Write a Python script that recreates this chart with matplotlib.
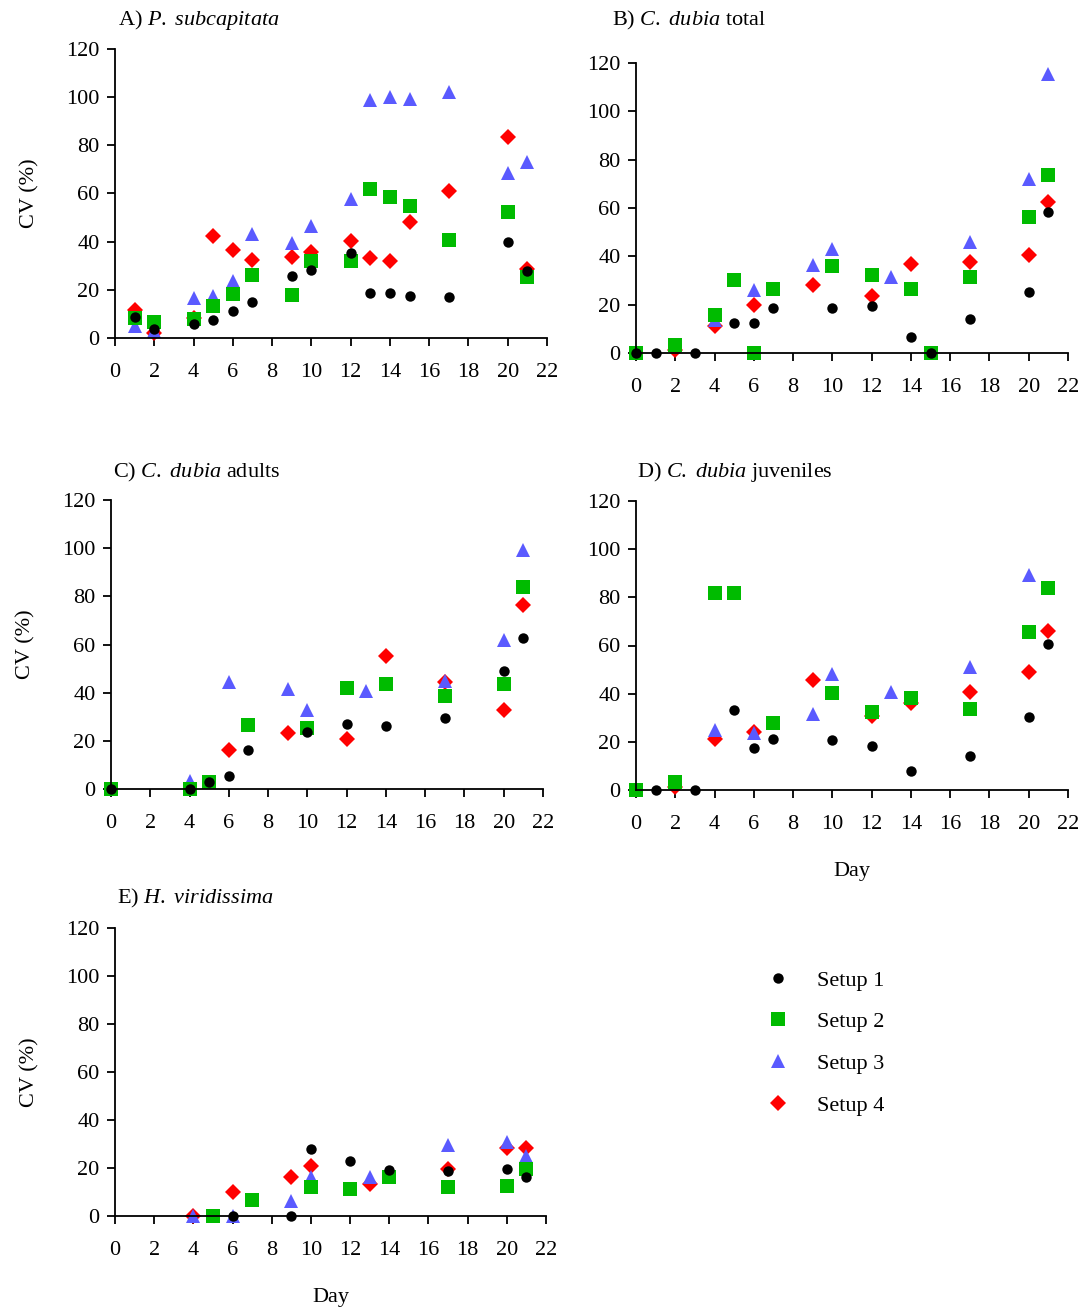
import numpy as np
import matplotlib
matplotlib.use('Agg')
from matplotlib import pyplot as plt

plt.rcParams['font.family'] = ['Liberation Serif', 'DejaVu Serif']
plt.rcParams['mathtext.fontset'] = 'custom'
plt.rcParams['mathtext.it'] = 'Liberation Serif:italic'
plt.rcParams['mathtext.rm'] = 'Liberation Serif'

# ---- data: (day, CV %) per setup, per panel ----
# A) P. subcapitata
a_days1 = [1, 2, 4, 5, 6, 7, 9, 10, 12, 13, 14, 15, 17, 20, 21]
a_s1 = [8.9, 3.9, 5.7, 7.3, 11.1, 14.8, 25.6, 28.4, 35.4, 18.8, 18.8, 17.3, 17.0, 40.0, 28.0]
a_s2 = [8.2, 6.6, 7.9, 13.1, 18.4, 26.0, 18.0, 32.1, 32.1, 61.9, 58.4, 54.8, 40.7, 52.2, 25.5]
a_s3 = [4.8, 2.8, 16.6, 17.3, 23.8, 43.3, 39.4, 46.6, 57.7, 99.0, 100.0, 99.2, 102.0, 68.5, 72.9]
a_s4 = [11.8, 2.0, 8.5, 42.2, 36.4, 32.5, 33.5, 35.6, 40.4, 33.2, 31.8, 48.0, 61.2, 83.5, 28.8]

# B) C. dubia total
b_d1 = [0, 1, 3, 5, 6, 7, 10, 12, 14, 15, 17, 20, 21]
b_s1 = [0, 0, 0, 12.4, 12.3, 18.5, 18.8, 19.6, 6.8, 0, 14.1, 25.4, 58.3]
b_d2 = [0, 2, 4, 5, 6, 7, 10, 12, 14, 15, 17, 20, 21]
b_s2 = [0, 3.4, 15.9, 30.3, 0, 26.3, 36.1, 32.3, 26.3, 0, 31.3, 56.1, 73.5]
b_d3 = [4, 6, 9, 10, 13, 17, 20, 21]
b_s3 = [13.8, 25.9, 36.6, 43.0, 31.3, 45.9, 72.1, 115.6]
b_d4 = [2, 4, 6, 9, 12, 14, 17, 20, 21]
b_s4 = [1.4, 11.0, 20.0, 28.1, 23.7, 36.8, 37.5, 40.4, 62.5]

# C) C. dubia adults
c_d1 = [0, 4, 5, 6, 7, 10, 12, 14, 17, 20, 21]
c_s1 = [0, 0, 3.0, 5.5, 16.2, 23.8, 27.1, 26.2, 29.3, 49.1, 62.8]
c_d2 = [0, 4, 5, 7, 10, 12, 14, 17, 20, 21]
c_s2 = [0, 0, 3.0, 26.6, 25.3, 41.9, 43.5, 38.6, 43.7, 83.9]
c_d3 = [4, 6, 9, 10, 13, 17, 20, 21]
c_s3 = [3.2, 44.5, 41.5, 33.0, 40.8, 45.0, 62.0, 99.4]
c_d4 = [6, 9, 12, 14, 17, 20, 21]
c_s4 = [16.2, 23.2, 20.9, 55.4, 44.5, 32.9, 76.5]

# D) C. dubia juveniles
d_d1 = [1, 3, 5, 6, 7, 10, 12, 14, 17, 20, 21]
d_s1 = [0, 0, 33.2, 17.6, 21.0, 20.8, 18.3, 7.9, 14.1, 30.2, 60.8]
d_d2 = [0, 2, 4, 5, 7, 10, 12, 14, 17, 20, 21]
d_s2 = [0, 3.3, 81.7, 81.9, 27.8, 40.3, 32.2, 38.3, 33.6, 65.7, 83.7]
d_d3 = [4, 6, 9, 10, 13, 17, 20]
d_s3 = [24.9, 23.5, 31.6, 48.2, 40.6, 51.0, 89.3]
d_d4 = [2, 4, 6, 9, 12, 14, 17, 20, 21]
d_s4 = [1.4, 21.2, 24.0, 45.5, 30.7, 36.3, 40.8, 49.0, 66.2]

# E) H. viridissima
e_d1 = [6, 9, 10, 12, 14, 17, 20, 21]
e_s1 = [0, 0, 27.8, 23.1, 19.0, 18.9, 19.4, 16.1]
e_d2 = [5, 7, 10, 12, 14, 17, 20, 21]
e_s2 = [0, 6.7, 12.1, 11.1, 16.1, 11.9, 12.5, 19.7]
e_d3 = [4, 6, 9, 10, 13, 17, 20, 21]
e_s3 = [0, 0, 6.4, 16.1, 16.4, 29.6, 30.7, 25.0]
e_d4 = [4, 6, 9, 10, 13, 17, 20, 21]
e_s4 = [0, 10.1, 16.2, 20.8, 13.3, 19.7, 28.2, 28.5]

setup_names = ['Setup 1', 'Setup 2', 'Setup 3', 'Setup 4']
colors = ['black', '#00bb00', '#5a5aff', '#ff0000']
markers = ['o', 's', '^', 'D']
msizes = [7.5, 9.5, 10, 8]

panels = [
    ('A', r'A) $\mathit{P.\ subcapitata}$',
     [(a_days1, a_s1), (a_days1, a_s2), (a_days1, a_s3), (a_days1, a_s4)]),
    ('B', r'B) $\mathit{C.\ dubia}$ total',
     [(b_d1, b_s1), (b_d2, b_s2), (b_d3, b_s3), (b_d4, b_s4)]),
    ('C', r'C) $\mathit{C.\ dubia}$ adults',
     [(c_d1, c_s1), (c_d2, c_s2), (c_d3, c_s3), (c_d4, c_s4)]),
    ('D', r'D) $\mathit{C.\ dubia}$ juveniles',
     [(d_d1, d_s1), (d_d2, d_s2), (d_d3, d_s3), (d_d4, d_s4)]),
    ('E', r'E) $\mathit{H.\ viridissima}$',
     [(e_d1, e_s1), (e_d2, e_s2), (e_d3, e_s3), (e_d4, e_s4)]),
]

W, H = 1089, 1310
fig = plt.figure(figsize=(W / 100, H / 100), dpi=100)

# axes boxes in pixels: left, right, bottom, top ; title position
boxes = {
    'A': (115, 547, 338, 49, (118, 20)),
    'B': (636, 1068, 353, 63, (612, 20)),
    'C': (111, 543, 789, 500, (113, 472)),
    'D': (636, 1068, 790, 501, (637, 472)),
    'E': (115, 546, 1216, 928, (117, 898)),
}

fs = 16
handles = None
for key, title, series in panels:
    l, r, b, t, (tx, ty) = boxes[key]
    ax = fig.add_axes([l / W, 1 - b / H, (r - l) / W, (b - t) / H])
    hs = [None] * 4
    # setup 4 drawn first, setup 1 on top
    for i in [3, 2, 1, 0]:
        xs, ys = series[i]
        hs[i], = ax.plot(xs, ys, linestyle='none', marker=markers[i],
                         color=colors[i], markersize=msizes[i],
                         markeredgewidth=0, clip_on=False, label=setup_names[i])
    handles = hs
    ax.set_xlim(0, 22)
    ax.set_ylim(0, 120)
    ax.set_xticks(np.arange(0, 23, 2))
    ax.set_yticks(np.arange(0, 121, 20))
    for s in ['top', 'right']:
        ax.spines[s].set_visible(False)
    for s in ['left', 'bottom']:
        ax.spines[s].set_linewidth(1.3)
    ax.tick_params(direction='out', length=6, width=1.3, labelsize=fs)
    ax.tick_params(axis='x', pad=12)
    ax.tick_params(axis='y', pad=5)
    if key in ('A', 'C', 'E'):
        ax.set_ylabel('CV (%)', fontsize=fs)
        ax.yaxis.set_label_coords(-0.175, 0.5)
    if key in ('D', 'E'):
        ax.set_xlabel('Day', fontsize=fs, labelpad=20)
    fig.text(tx / W, 1 - ty / H, title, fontsize=fs, ha='left', va='center')

fig.legend(handles=handles, labels=setup_names, loc='upper left',
           bbox_to_anchor=(744 / W, 1 - 950 / H), frameon=False,
           fontsize=fs, handletextpad=1.1, labelspacing=0.95,
           handlelength=1.3, numpoints=1, markerscale=1.0)

fig.savefig('out.png', dpi=100)
